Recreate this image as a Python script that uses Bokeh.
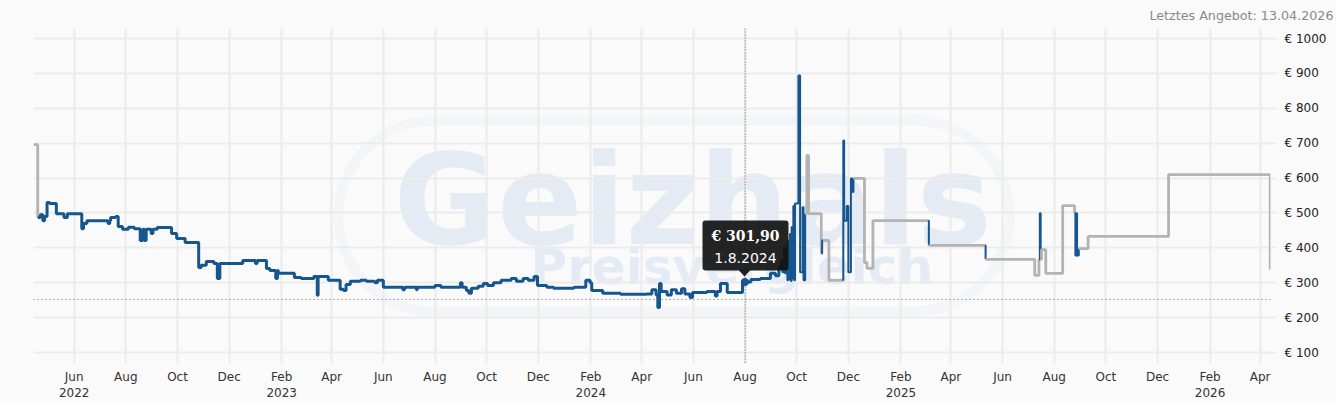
import pandas as pd
from bokeh.plotting import figure
from bokeh.models import Range1d, FixedTicker, Span, Label, BoxAnnotation, PolyAnnotation
from bokeh.embed import file_html
from bokeh.resources import INLINE

# ---------------- data ----------------
dates = [
    "2022-04-14", "2022-04-19", "2022-04-22", "2022-04-25", "2022-04-27", "2022-04-30", "2022-05-03",
    "2022-05-11", "2022-05-20", "2022-05-24", "2022-06-10", "2022-06-12", "2022-06-16", "2022-07-11",
    "2022-07-13", "2022-07-14", "2022-07-20", "2022-07-23", "2022-07-28", "2022-08-04", "2022-08-11",
    "2022-08-18", "2022-08-21", "2022-08-23", "2022-08-25", "2022-08-31", "2022-09-02", "2022-09-07",
    "2022-09-24", "2022-09-30", "2022-10-10", "2022-10-26", "2022-10-29", "2022-11-04", "2022-11-13",
    "2022-11-17", "2022-11-20", "2022-12-17", "2023-01-01", "2023-01-03", "2023-01-14", "2023-01-18",
    "2023-01-25", "2023-01-27", "2023-01-28", "2023-02-16", "2023-02-24", "2023-03-11", "2023-03-15",
    "2023-03-16", "2023-03-28", "2023-04-11", "2023-04-15", "2023-04-18", "2023-04-23", "2023-05-05",
    "2023-05-12", "2023-05-22", "2023-05-25", "2023-06-01", "2023-06-24", "2023-06-26", "2023-07-10",
    "2023-07-11", "2023-08-01", "2023-08-08", "2023-08-31", "2023-09-02", "2023-09-07", "2023-09-10",
    "2023-09-13", "2023-09-21", "2023-09-27", "2023-10-02", "2023-10-09", "2023-10-18", "2023-10-30",
    "2023-11-05", "2023-11-13", "2023-11-19", "2023-11-26", "2023-11-30", "2023-12-11", "2023-12-19",
    "2024-01-12", "2024-01-26", "2024-01-31", "2024-02-02", "2024-02-15", "2024-03-07", "2024-04-07",
    "2024-04-13", "2024-04-18", "2024-04-20", "2024-04-22", "2024-04-24", "2024-05-01", "2024-05-06",
    "2024-05-12", "2024-05-18", "2024-05-22", "2024-05-28", "2024-05-31", "2024-06-17", "2024-06-27",
    "2024-06-29", "2024-07-03", "2024-07-11", "2024-07-29", "2024-08-01", "2024-08-08", "2024-08-19",
    "2024-08-31", "2024-09-06", "2024-09-10", "2024-09-13", "2024-09-14", "2024-09-16", "2024-09-17",
    "2024-09-19", "2024-09-20", "2024-09-21", "2024-09-22", "2024-09-23", "2024-09-24", "2024-09-25",
    "2024-09-26", "2024-09-27", "2024-09-28", "2024-09-29", "2024-10-03", "2024-10-05", "2024-10-08",
    "2024-10-09", "2024-10-11", "2024-10-13", "2024-10-15", "2024-10-30", "2024-10-31", "2024-11-01",
    "2024-11-08", "2024-11-24", "2024-11-25", "2024-11-26", "2024-11-29", "2024-12-01", "2024-12-04",
    "2024-12-06", "2024-12-07", "2024-12-20", "2024-12-23", "2024-12-30", "2025-03-05", "2025-03-06",
    "2025-05-11", "2025-05-12", "2025-07-09", "2025-07-14", "2025-07-15", "2025-07-16", "2025-07-17",
    "2025-07-22", "2025-08-11", "2025-08-25", "2025-08-26", "2025-08-27", "2025-08-28", "2025-08-30",
    "2025-09-10", "2025-12-14", "2026-04-13",
]
prices = [
    696, 487, 495, 478, 490, 530, 527,
    498, 487, 498, 455, 470, 478, 470,
    478, 487, 490, 461, 453, 459, 455,
    421, 453, 421, 453, 441, 453, 458,
    441, 427, 415, 344, 350, 361, 355,
    312, 355, 364, 355, 364, 341, 335,
    312, 335, 327, 315, 312, 318, 264,
    318, 307, 281, 278, 295, 304, 307,
    304, 300, 307, 287, 280, 287, 280,
    287, 292, 287, 300, 287, 278, 270,
    284, 290, 298, 292, 300, 307, 312,
    304, 312, 307, 318, 292, 287, 284,
    287, 307, 300, 278, 270, 267, 268,
    280, 265, 229, 298, 275, 265, 280,
    270, 283, 268, 258, 272, 275, 262,
    275, 298, 272, 307, 301.90, 309, 312,
    327, 320, 344, 364, 330, 401, 327,
    398, 307, 420, 310, 440, 305, 460,
    312, 520, 307, 527, 894, 330, 516,
    307, 498, 665, 498, 384, 421, 421,
    307, 307, 708, 478, 520, 330, 599,
    560, 599, 358, 341, 478, 478, 407,
    407, 367, 321, 367, 499, 367, 395,
    327, 521, 499, 378, 499, 378, 398,
    433, 610, 338,
]
# "b" = offer listed (blue), "g" = no current offer (grey)
offer = [
    "g", "b", "b", "b", "b", "b", "b",
    "b", "b", "b", "b", "b", "b", "b",
    "b", "b", "b", "b", "b", "b", "b",
    "b", "b", "b", "b", "b", "b", "b",
    "b", "b", "b", "b", "b", "b", "b",
    "b", "b", "b", "b", "b", "b", "b",
    "b", "b", "b", "b", "b", "b", "b",
    "b", "b", "b", "b", "b", "b", "b",
    "b", "b", "b", "b", "b", "b", "b",
    "b", "b", "b", "b", "b", "b", "b",
    "b", "b", "b", "b", "b", "b", "b",
    "b", "b", "b", "b", "b", "b", "b",
    "b", "b", "b", "b", "b", "b", "b",
    "b", "b", "b", "b", "b", "b", "b",
    "b", "b", "b", "b", "b", "b", "b",
    "b", "b", "b", "b", "b", "b", "b",
    "b", "b", "b", "b", "b", "b", "b",
    "b", "b", "b", "b", "b", "b", "b",
    "b", "b", "b", "b", "b", "b", "b",
    "b", "g", "g", "g", "b", "b", "g",
    "g", "b", "b", "b", "b", "b", "b",
    "b", "g", "g", "g", "g", "b", "g",
    "b", "g", "g", "b", "b", "g", "g",
    "g", "g", "b", "b", "b", "b", "g",
    "g", "g", "g",
]
thin_from = "2024-09-12"   # volatile period drawn with a finer line

month_ticks = ["2022-06-01", "2022-08-01", "2022-10-01", "2022-12-01", "2023-02-01", "2023-04-01",
               "2023-06-01", "2023-08-01", "2023-10-01", "2023-12-01", "2024-02-01", "2024-04-01",
               "2024-06-01", "2024-08-01", "2024-10-01", "2024-12-01", "2025-02-01", "2025-04-01",
               "2025-06-01", "2025-08-01", "2025-10-01", "2025-12-01", "2026-02-01", "2026-04-01"]
month_labels = ["Jun\n2022", "Aug", "Oct", "Dec", "Feb\n2023", "Apr",
                "Jun", "Aug", "Oct", "Dec", "Feb\n2024", "Apr",
                "Jun", "Aug", "Oct", "Dec", "Feb\n2025", "Apr",
                "Jun", "Aug", "Oct", "Dec", "Feb\n2026", "Apr"]
price_ticks = [100, 200, 300, 400, 500, 600, 700, 800, 900, 1000]
price_labels = ["€ 100", "€ 200", "€ 300", "€ 400", "€ 500", "€ 600", "€ 700", "€ 800", "€ 900", "€ 1000"]

reference_price = 252
tooltip_date = "2024-08-01"
tooltip_price = 301.90
tooltip_price_text = "€ 301,90"
tooltip_date_text = "1.8.2024"
last_offer_text = "Letztes Angebot: 13.04.2026"
x_start, x_end = "2022-04-14", "2026-04-13 08:00"
y_start, y_end = 68.5, 1028.7

BLUE = "#16568f"
GREY = "#b3b3b3"
GRID = "#ebebeb"
WATERMARK = "#e5ebf4"

def ms(d):
    return int(pd.Timestamp(d).value // 10**6)

p = figure(frame_width=1237, frame_height=335, x_axis_type="datetime",
           x_range=Range1d(pd.Timestamp(x_start), pd.Timestamp(x_end)),
           y_range=Range1d(y_start, y_end), title=last_offer_text,
           y_axis_location="right", output_backend="svg", toolbar_location=None,
           min_border_left=33, min_border_top=28, min_border_right=66, min_border_bottom=40,
           background_fill_color="#fafafa", border_fill_color="#fafafa")
p.outline_line_color = None

# note on the last offer, top right
p.title.align = "right"
p.title.offset = -63
p.title.standoff = 11
p.title.text_font = "DejaVu Sans"
p.title.text_font_size = "12.7px"
p.title.text_font_style = "normal"
p.title.text_color = "#888888"

# axes
xa = p.xaxis[0]
xa.ticker = FixedTicker(ticks=[ms(d) for d in month_ticks])
xa.major_label_overrides = {ms(d): lab for d, lab in zip(month_ticks, month_labels)}
xa.axis_line_color = None
xa.major_tick_line_color = None
xa.minor_tick_line_color = None
xa.major_tick_out = 0
xa.major_tick_in = 0
xa.major_label_standoff = 6
xa.major_label_text_font = "DejaVu Sans"
xa.major_label_text_font_size = "12px"
xa.major_label_text_color = "#333333"

ya = p.yaxis[0]
ya.ticker = FixedTicker(ticks=price_ticks)
ya.major_label_overrides = {t: lab for t, lab in zip(price_ticks, price_labels)}
ya.axis_line_color = None
ya.minor_tick_line_color = None
ya.major_tick_line_color = GRID
ya.major_tick_line_width = 2
ya.major_tick_out = 6
ya.major_tick_in = 0
ya.major_label_standoff = 8
ya.major_label_text_font = "DejaVu Sans"
ya.major_label_text_font_size = "12px"
ya.major_label_text_color = "#222222"

p.xgrid.grid_line_color = GRID
p.xgrid.grid_line_width = 2
p.ygrid.grid_line_color = GRID
p.ygrid.grid_line_width = 2

# watermark (decoration, frame-relative screen units)
p.add_layout(BoxAnnotation(left=305, right=976, top=243, bottom=52,
                           left_units="screen", right_units="screen",
                           top_units="screen", bottom_units="screen",
                           fill_color=None, line_color=WATERMARK, line_width=10,
                           border_radius=95, level="image"))
p.add_layout(Label(x=360, y=163, x_units="screen", y_units="screen", text="Geizhals",
                   text_font="DejaVu Sans", text_font_style="bold", text_font_size="126px",
                   text_color=WATERMARK, text_baseline="middle", level="image"))
p.add_layout(Label(x=497, y=97, x_units="screen", y_units="screen", text="Preisvergleich",
                   text_font="DejaVu Sans", text_font_style="bold", text_font_size="50px",
                   text_color=WATERMARK, text_baseline="middle", level="image"))

# reference price line and crosshair
p.add_layout(Span(location=reference_price, dimension="width", line_color="#666666",
                  line_dash="1 3", line_width=1))
p.add_layout(Span(location=ms(tooltip_date), dimension="height", line_color="#555555",
                  line_dash="1 2", line_width=1))

# price history, split into offer/no-offer runs
xs = list(pd.to_datetime(dates))
style = [(o, d >= thin_from) for o, d in zip(offer, dates)]
n = len(dates)
start = 0
for i in range(1, n + 1):
    if i == n or style[i] != style[start]:
        seg_x = xs[start:min(i + 1, n)]
        seg_y = prices[start:min(i + 1, n)]
        kind, thin = style[start]
        if kind == "b":
            p.step(seg_x, seg_y, mode="after", line_color=BLUE, line_width=2 if thin else 3)
        else:
            p.step(seg_x, seg_y, mode="after", line_color=GREY, line_width=2.8)
        start = i

p.scatter([pd.Timestamp(tooltip_date)], [tooltip_price], size=7, color=BLUE)

# tooltip (decoration)
p.add_layout(BoxAnnotation(left=669, right=755, top=143, bottom=93,
                           left_units="screen", right_units="screen",
                           top_units="screen", bottom_units="screen",
                           fill_color="#111111", fill_alpha=0.92, line_color=None,
                           border_radius=3, level="overlay"))
p.add_layout(PolyAnnotation(xs=[705, 717, 711], ys=[93.5, 93.5, 87],
                            xs_units="screen", ys_units="screen",
                            fill_color="#111111", fill_alpha=0.92, line_color=None,
                            level="overlay"))
p.add_layout(Label(x=712, y=128, x_units="screen", y_units="screen", text=tooltip_price_text,
                   text_font="DejaVu Serif", text_font_style="bold", text_font_size="14px",
                   text_color="white", text_align="center", text_baseline="middle", level="overlay"))
p.add_layout(Label(x=712, y=106, x_units="screen", y_units="screen", text=tooltip_date_text,
                   text_font="DejaVu Sans", text_font_size="14px",
                   text_color="white", text_align="center", text_baseline="middle", level="overlay"))

open("out.html", "w").write(file_html(p, INLINE, title="Preisverlauf"))
